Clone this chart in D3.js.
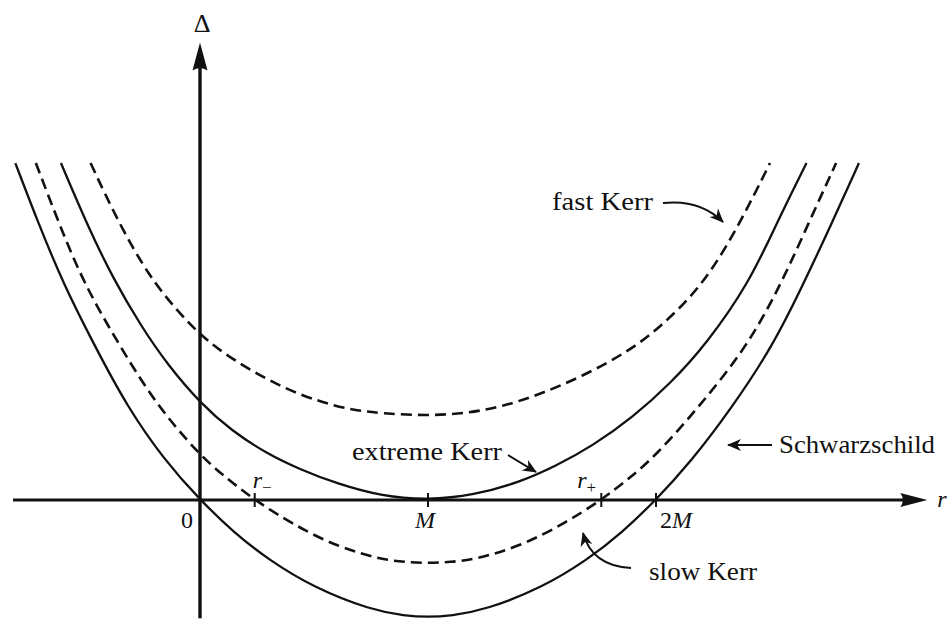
<!DOCTYPE html>
<html>
<head>
<meta charset="utf-8">
<script src="https://cdn.jsdelivr.net/npm/d3@7"></script>
<style>
  html, body { margin: 0; padding: 0; background: #fff; }
  svg { display: block; }
</style>
</head>
<body>
<svg id="chart" width="952" height="623" font-family="'Liberation Serif', 'DejaVu Serif', 'Noto Serif', 'Times New Roman', serif"></svg>
<script>
// Horizon function Δ(r) for four black-hole cases.
// r is measured in units of M, Δ in units of M².
const curveNames = ["Schwarzschild", "slow Kerr", "extreme Kerr", "fast Kerr"];
const curveDashed = [false, true, false, true];

const schwarzschildR     = [-0.81, -0.71, -0.60, -0.46, -0.32, -0.16, 0.00, 0.15, 0.30, 0.50, 0.75, 0.90, 1.00, 1.10, 1.25, 1.50, 1.70, 1.85, 2.00, 2.15, 2.33, 2.51, 2.64, 2.77, 2.89];
const schwarzschildDelta = [ 2.88,  2.37,  1.85,  1.31,  0.80,  0.35, 0.00, -0.28, -0.51, -0.75, -0.94, -0.99, -1.00, -0.99, -0.94, -0.75, -0.51, -0.28, 0.00, 0.32, 0.78, 1.31, 1.82, 2.36, 2.88];

const slowKerrR     = [-0.72, -0.62, -0.51, -0.35, -0.19, 0.00, 0.12, 0.24, 0.40, 0.60, 0.80, 0.90, 1.00, 1.10, 1.20, 1.40, 1.60, 1.76, 1.88, 2.00, 2.19, 2.40, 2.55, 2.67, 2.79];
const slowKerrDelta = [ 2.88,  2.37,  1.85,  1.31,  0.81, 0.38, 0.18, 0.00, -0.20, -0.40, -0.51, -0.53, -0.54, -0.53, -0.51, -0.40, -0.20, 0.00, 0.18, 0.38, 0.80, 1.31, 1.85, 2.37, 2.88];

const extremeKerrR     = [-0.61, -0.49, -0.38, -0.26, -0.14, 0.00, 0.14, 0.29, 0.44, 0.60, 0.80, 1.00, 1.20, 1.40, 1.56, 1.72, 1.90, 2.06, 2.22, 2.41, 2.53, 2.66];
const extremeKerrDelta = [ 2.88,  2.33,  1.89,  1.49,  1.15, 0.83, 0.59, 0.40, 0.26, 0.14, 0.03, 0.00, 0.04, 0.15, 0.29, 0.46, 0.71, 0.99, 1.33, 1.86, 2.37, 2.88];

const fastKerrR     = [-0.48, -0.36, -0.22, -0.10, 0.00, 0.14, 0.36, 0.51, 0.66, 0.80, 0.99, 1.17, 1.33, 1.50, 1.68, 1.87, 2.01, 2.21, 2.37, 2.50];
const fastKerrDelta = [ 2.88,  2.38,  1.90,  1.62, 1.41, 1.20, 0.96, 0.85, 0.77, 0.74, 0.72, 0.74, 0.80, 0.91, 1.06, 1.26, 1.46, 1.84, 2.37, 2.88];

// Marked radii on the r axis: r−, M, r+, 2M
const tickR = [0.24, 1.00, 1.76, 2.00];
const tickLabelR = [0, 1, 2];
const tickLabels = ["0", "M", "2M"];
const horizonR = [0.24, 1.76];
const horizonSigns = ["−", "+"];

// Axis extents (arrow tips)
const rAxisExtent = [-0.82, 3.19];
const deltaAxisExtent = [-1.01, 3.91];

const curveR = [schwarzschildR, slowKerrR, extremeKerrR, fastKerrR];
const curveDelta = [schwarzschildDelta, slowKerrDelta, extremeKerrDelta, fastKerrDelta];

const svg = d3.select("#chart");
const x = d3.scaleLinear().domain([0, 2]).range([200, 656]);
const y = d3.scaleLinear().domain([0, -1]).range([500, 617]);

const ink = "#111";

// arrowhead used by the annotation pointers
svg.append("defs").append("marker")
  .attr("id", "head")
  .attr("viewBox", "-14 -7 16 14")
  .attr("refX", 0).attr("refY", 0)
  .attr("markerWidth", 16).attr("markerHeight", 14)
  .attr("markerUnits", "userSpaceOnUse")
  .attr("orient", "auto")
  .append("path")
  .attr("d", "M1,0 L-13,-6 L-9,0 L-13,6 Z")
  .attr("fill", ink);

// ---- axes ----
const axes = svg.append("g");
const x0 = x(0), y0 = y(0);
const rTip = x(rAxisExtent[1]);
const dTip = y(deltaAxisExtent[1]);

axes.append("line")
  .attr("x1", x(rAxisExtent[0])).attr("y1", y0)
  .attr("x2", rTip - 20).attr("y2", y0)
  .attr("stroke", ink).attr("stroke-width", 3);
axes.append("path")
  .attr("d", `M${rTip},${y0} L${rTip - 27},${y0 - 7} Q${rTip - 22},${y0} ${rTip - 27},${y0 + 7} Z`)
  .attr("fill", ink);

axes.append("line")
  .attr("x1", x0).attr("y1", y(deltaAxisExtent[0]))
  .attr("x2", x0).attr("y2", dTip + 20)
  .attr("stroke", ink).attr("stroke-width", 3.4);
axes.append("path")
  .attr("d", `M${x0},${dTip} L${x0 - 7.5},${dTip + 28} Q${x0},${dTip + 23} ${x0 + 7.5},${dTip + 28} Z`)
  .attr("fill", ink);

// tick marks on the r axis
axes.selectAll("line.tick")
  .data(tickR)
  .join("line")
  .attr("class", "tick")
  .attr("x1", d => x(d)).attr("x2", d => x(d))
  .attr("y1", y0 - 7).attr("y2", y0 + 7)
  .attr("stroke", ink).attr("stroke-width", 2);

// ---- curves ----
const line = d3.line()
  .x(d => x(d[0]))
  .y(d => y(d[1]))
  .curve(d3.curveBasis);

svg.append("g").selectAll("path")
  .data(curveNames.map((name, i) => ({
    name,
    dashed: curveDashed[i],
    pts: curveR[i].map((r, j) => [r, curveDelta[i][j]])
  })))
  .join("path")
  .attr("d", d => line(d.pts))
  .attr("fill", "none")
  .attr("stroke", ink)
  .attr("stroke-width", d => d.dashed ? 2.6 : 2.3)
  .attr("stroke-dasharray", d => d.dashed ? "11,6" : null);

// ---- axis labels ----
svg.append("text")
  .attr("x", x0 + 2).attr("y", 32)
  .attr("text-anchor", "middle")
  .attr("font-size", 26)
  .attr("fill", ink)
  .text("Δ");

svg.append("text")
  .attr("x", rTip + 10).attr("y", y0 + 7)
  .attr("font-size", 24)
  .attr("font-style", "italic")
  .attr("fill", ink)
  .text("r");

const tickText = svg.append("g").attr("font-size", 24).attr("fill", ink);
tickText.selectAll("text")
  .data(tickLabelR)
  .join("text")
  .attr("x", (d, i) => x(d) + [-13, -3, 20][i])
  .attr("y", y0 + 28)
  .attr("text-anchor", "middle")
  .each(function (d, i) {
    const t = d3.select(this);
    const label = tickLabels[i];
    const m = label.indexOf("M");
    if (m < 0) { t.text(label); return; }
    if (m > 0) t.append("tspan").text(label.slice(0, m));
    t.append("tspan").attr("font-style", "italic").text("M");
  });

// r− and r+ labels above the horizon crossings
const hz = svg.append("g").attr("fill", ink);
horizonR.forEach((r, i) => {
  const g = hz.append("text")
    .attr("x", x(r) + (i === 0 ? -2 : -24))
    .attr("y", y0 - 12)
    .attr("font-size", 24);
  g.append("tspan").attr("font-style", "italic").text("r");
  g.append("tspan").attr("font-size", 17).attr("dx", 0).attr("dy", 5).text(horizonSigns[i]);
});

// ---- curve annotations ----
const notes = svg.append("g").attr("font-size", 25).attr("fill", ink);

notes.append("text").attr("x", 552).attr("y", 210)
  .attr("textLength", 101).attr("lengthAdjust", "spacingAndGlyphs").text(curveNames[3]);
notes.append("text").attr("x", 352).attr("y", 460)
  .attr("textLength", 150).attr("lengthAdjust", "spacingAndGlyphs").text(curveNames[2]);
notes.append("text").attr("x", 779).attr("y", 453)
  .attr("textLength", 156).attr("lengthAdjust", "spacingAndGlyphs").text(curveNames[0]);
notes.append("text").attr("x", 649).attr("y", 580)
  .attr("textLength", 108).attr("lengthAdjust", "spacingAndGlyphs").text(curveNames[1]);

const pointers = svg.append("g")
  .attr("fill", "none").attr("stroke", ink).attr("stroke-width", 2)
  .attr("marker-end", "url(#head)");
pointers.append("path").attr("d", "M663,203 Q700,199 723,222");
pointers.append("path").attr("d", "M508,455 L536,472");
pointers.append("path").attr("d", "M772,445 L728,445");
pointers.append("path").attr("d", "M631,568 Q592,566 583,533");
</script>
</body>
</html>
